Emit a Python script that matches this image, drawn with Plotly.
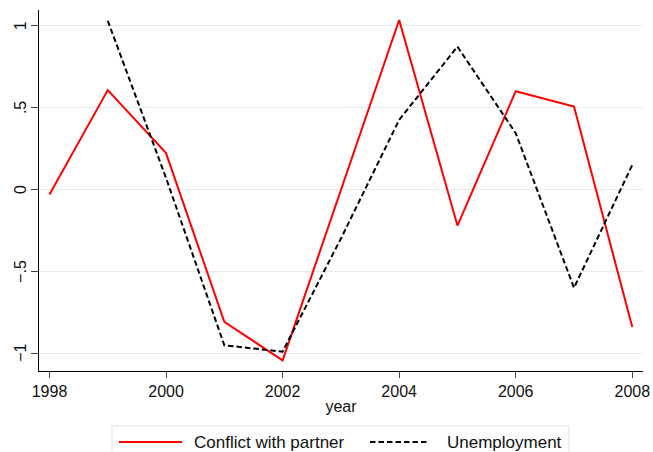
import plotly.graph_objects as go

# Yearly series (standardised scores)
years = [1998, 1999, 2000, 2001, 2002, 2003, 2004, 2005, 2006, 2007, 2008]
conflict = [-0.03, 0.607, 0.222, -0.808, -1.043, -0.005, 1.035, -0.22, 0.60, 0.506, -0.84]
unemp_years = [1999, 2000, 2001, 2002, 2003, 2004, 2005, 2006, 2007, 2008]
unemployment = [1.03, 0.07, -0.951, -0.99, -0.30, 0.425, 0.872, 0.344, -0.60, 0.15]

y_ticks = [-1, -0.5, 0, 0.5, 1]
y_ticktext = ["\u22121", "\u2212.5", "0", ".5", "1"]
x_ticks = [1998, 2000, 2002, 2004, 2006, 2008]

W, H = 653, 452
L, R, T, B = 39, 10, 10, 81
FONT = "Liberation Sans, Arial, Helvetica, sans-serif"

fig = go.Figure()
fig.add_trace(go.Scatter(x=years, y=conflict, mode="lines", name="Conflict with partner",
                         line=dict(color="#ff0000", width=2)))
fig.add_trace(go.Scatter(x=unemp_years, y=unemployment, mode="lines", name="Unemployment",
                         line=dict(color="#000000", width=2, dash="5.5px,3px")))

# pixel -> paper helpers for the hand-drawn legend and rotated y labels
pw, ph = W - L - R, H - T - B
def px(x):
    return (x - L) / pw
def py(y):
    return (H - B - y) / ph

shapes = [
    dict(type="rect", xref="paper", yref="paper", x0=px(112), x1=px(569), y0=py(480), y1=py(426),
         line=dict(color="#dfe6e8", width=1.2), fillcolor="rgba(0,0,0,0)", layer="above"),
    dict(type="line", xref="paper", yref="paper", x0=px(119), x1=px(182), y0=py(442), y1=py(442),
         line=dict(color="#ff0000", width=2)),
    dict(type="line", xref="paper", yref="paper", x0=px(370), x1=px(429), y0=py(442), y1=py(442),
         line=dict(color="#000000", width=2, dash="5.5px,3px")),
]
annotations = [
    dict(text="Conflict with partner", xref="paper", yref="paper", x=px(192), y=py(442),
         xanchor="left", yanchor="middle", showarrow=False, font=dict(size=17, color="#111")),
    dict(text="Unemployment", xref="paper", yref="paper", x=px(445), y=py(442),
         xanchor="left", yanchor="middle", showarrow=False, font=dict(size=17, color="#111")),
]
# y tick labels, rotated to read bottom-to-top
for v, t in zip(y_ticks, y_ticktext):
    annotations.append(dict(text=t, xref="paper", yref="y", x=px(20.5), y=v, textangle=-90,
                            xanchor="center", yanchor="middle", showarrow=False,
                            font=dict(size=16, color="#111")))

fig.update_layout(
    width=W, height=H,
    margin=dict(l=L, r=R, t=T, b=B, autoexpand=False),
    paper_bgcolor="white", plot_bgcolor="white",
    font=dict(family=FONT, size=16, color="#111"),
    showlegend=False,
    shapes=shapes,
    annotations=annotations,
    xaxis=dict(
        range=[1997.82, 2008.184], tickvals=x_ticks, ticks="outside", ticklen=6,
        tickwidth=1.2, tickcolor="#444", showline=True, linecolor="black", linewidth=1.3,
        showgrid=False, zeroline=False, automargin=False,
        title=dict(text="year", standoff=1, font=dict(size=16)),
    ),
    yaxis=dict(
        range=[-1.108, 1.0958], tickvals=y_ticks, showticklabels=False,
        ticks="outside", ticklen=7, tickwidth=1.2, tickcolor="#444",
        showline=True, linecolor="black", linewidth=1.3, automargin=False,
        showgrid=True, gridcolor="#e6eced", gridwidth=1.3, zeroline=False,
    ),
)

fig.write_html("out.html")
